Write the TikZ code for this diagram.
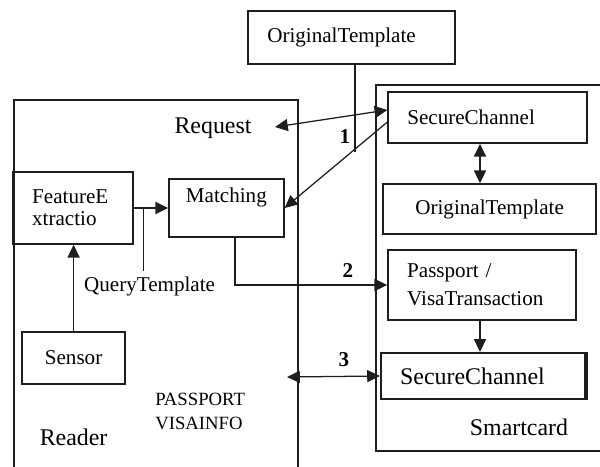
\documentclass[tikz,border=0pt]{standalone}
\usepackage{fontspec}
\setmainfont{Liberation Serif}
\usetikzlibrary{arrows.meta}
\definecolor{inkgray}{RGB}{30,30,30}
\newcommand{\nf}{\fontsize{15}{19}\selectfont}
\newcommand{\lgf}{\fontsize{17}{20}\selectfont}

\begin{document}
\begin{tikzpicture}[
        base/.style={draw=inkgray, line width=1pt, font=\nf, inner sep=0pt},
        box/.style={base, align=center},
        lbox/.style={base, align=left, inner xsep=0.48cm},
        txt/.style={font=\nf, align=center},
        num/.style={font=\nf\bfseries},
        arrow/.style={-{Triangle[length=0.32cm, width=0.3cm]}, line width=0.9pt, draw=inkgray},
        dblarrow/.style={{Triangle[length=0.32cm, width=0.3cm]}-{Triangle[length=0.32cm, width=0.3cm]}, line width=0.9pt, draw=inkgray},
        plain/.style={line width=0.9pt, draw=inkgray}
    ]
        \useasboundingbox (0,0) rectangle (15,11.65);
        \clip (0,0) rectangle (15,11.65);

        % Containers
        \node (reader) [base, minimum width=7.1cm, minimum height=9.5cm] at (3.9,4.4) {};
        \node (smart) [base, minimum width=5.975cm, minimum height=9.15cm] at (12.39,4.95) {};

        % Top
        \node (origtop) [lbox, text width=4.215cm, minimum height=1.325cm] at (8.79,10.71) {OriginalTemplate};

        % Reader side
        \node (request) [txt, font=\lgf] at (5.325,8.45) {Request};
        \node (feat) [lbox, text width=2.04cm, minimum height=1.8cm, font={\fontsize{15}{15.6}\selectfont}] at (1.825,6.45) {FeatureE\\xtractio};
        \node (match) [box, minimum width=2.875cm, minimum height=1.45cm, label={[txt, anchor=north, yshift=-0.12cm]north:Matching}] at (5.66,6.45) {};
        \node (qt) [txt] at (3.74,4.5) {QueryTemplate};
        \node (sensor) [box, minimum width=2.575cm, minimum height=1.3cm] at (1.84,2.7) {Sensor};
        \node (pv) [txt, font={\fontsize{13.3}{17}\selectfont}, align=left, anchor=west, inner sep=0pt] at (3.875,1.375) {PASSPORT\\VISAINFO};
        \node (readerlbl) [txt, font=\lgf] at (1.84,0.725) {Reader};

        % Smartcard side
        \node (sctop) [lbox, text width=4.015cm, minimum height=1.275cm] at (12.19,8.71) {SecureChannel};
        \node (otmpl) [box, minimum width=5.325cm, minimum height=1.25cm] at (12.24,6.425) {OriginalTemplate};
        \node (passport) [lbox, text width=3.74cm, minimum height=1.75cm, font={\fontsize{15}{19.8}\selectfont}] at (12.05,4.525) {Passport /\\VisaTransaction};
        \node (sc2) [lbox, text width=4.14cm, minimum height=1.15cm, line width=1.4pt, font=\lgf] at (12.075,2.25) {SecureChannel};
        \node (smartlbl) [txt, font=\lgf] at (12.975,0.975) {Smartcard};

        % Steps
        \node (n1) [num] at (8.625,8.225) {1};
        \node (n2) [num] at (8.7,4.875) {2};
        \node (n3) [num] at (8.6,2.65) {3};

        % Free ends
        \coordinate (oend) at (8.875,7.85);
        \coordinate (reqtip) at (6.875,8.475);
        \coordinate (p3) at (7.175,2.225);

        % Arrows
        \draw [plain] (origtop.south -| oend) -- (oend);
        \draw [dblarrow] (reqtip) -- ([yshift=0.19cm]sctop.west);
        \draw [arrow] ([yshift=-0.11cm]sctop.west) -- (match.east);
        \draw [dblarrow] ([xshift=-0.19cm]sctop.south) -- ([xshift=-0.19cm]sctop.south |- otmpl.north);
        \draw [arrow] (feat) -- (match);
        \draw [plain] ([xshift=0.25cm]feat.east) -- ([xshift=0.25cm]feat.east |- qt.north);
        \draw [arrow] (sensor.north) -- (sensor.north |- feat.south);
        \draw [arrow] ([xshift=0.215cm]match.south) |- (passport.west);
        \draw [arrow] ([xshift=-0.05cm]passport.south) -- ([xshift=-0.05cm]passport.south |- sc2.north);
        \draw [dblarrow] (p3) -- (sc2.west);
        \draw [line width=2.2pt, draw=inkgray] (sc2.north east) -- (sc2.south east);
    \end{tikzpicture}
\end{document}
